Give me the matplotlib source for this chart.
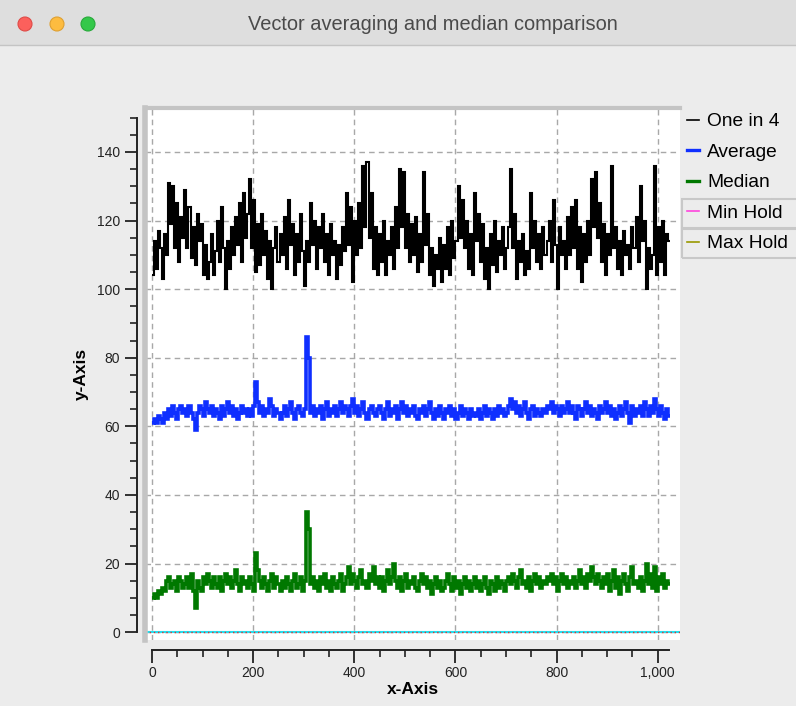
import numpy as np
import matplotlib.pyplot as plt
from matplotlib.patches import Ellipse, Rectangle
from matplotlib.lines import Line2D
from matplotlib.ticker import MultipleLocator, FuncFormatter

plt.rcParams['font.family'] = ['Liberation Sans', 'DejaVu Sans']

# "One in 4" samples (every 4th point of 1024)
one_in_4 = [
    104, 114, 106, 117, 112, 103, 116, 110, 131, 119, 130, 112, 125, 108, 121, 115,
    129, 112, 124, 109, 118, 107, 122, 114, 119, 104, 113, 103, 108, 116, 104, 111,
    120, 108, 124, 112, 100, 114, 106, 118, 110, 121, 113, 125, 108, 128, 115, 122,
    132, 112, 126, 105, 119, 107, 122, 110, 117, 103, 114, 100, 112, 118, 108, 116,
    110, 121, 106, 126, 113, 119, 104, 116, 108, 122, 111, 101, 114, 108, 125, 113,
    120, 106, 118, 112, 122, 108, 116, 104, 119, 110, 114, 103, 113, 107, 118, 111,
    128, 113, 124, 102, 120, 110, 125, 112, 136, 118, 137, 115, 128, 106, 118, 104,
    116, 108, 120, 104, 114, 110, 118, 106, 124, 112, 135, 118, 134, 112, 122, 108,
    119, 110, 121, 105, 116, 108, 134, 113, 122, 104, 112, 101, 110, 106, 115, 102,
    113, 106, 118, 104, 120, 109, 114, 130, 115, 126, 112, 120, 106, 116, 104, 128,
    114, 122, 108, 119, 103, 112, 100, 116, 107, 120, 105, 114, 110, 118, 106, 112,
    118, 135, 112, 122, 103, 114, 108, 116, 104, 111, 106, 128, 112, 120, 108, 116,
    106, 118, 110, 114, 120, 108, 126, 113, 100, 118, 110, 114, 106, 121, 110, 124,
    112, 126, 106, 118, 102, 116, 108, 120, 110, 132, 118, 134, 115, 125, 108, 119,
    104, 116, 110, 136, 112, 118, 106, 114, 104, 117, 110, 113, 106, 118, 112, 121,
    108, 130, 114, 120, 100, 112, 106, 110, 136, 104, 118, 108, 120, 104, 116, 114,
]

# average and median, read in blocks of 4 samples
average = [
    61, 62, 61, 63, 62, 61, 64, 62, 65, 63, 66, 64, 62, 65, 66, 64,
    65, 63, 66, 64, 62, 59, 64, 66, 65, 63, 67, 65, 64, 66, 63, 65,
    64, 62, 66, 63, 65, 67, 64, 66, 63, 65, 62, 64, 66, 64, 65, 63,
    65, 63, 66, 73, 67, 64, 66, 63, 65, 64, 68, 66, 63, 65, 64, 62,
    64, 66, 63, 65, 67, 64, 62, 65, 66, 64, 63, 65, 86, 80, 64, 66,
    63, 65, 64, 66, 62, 65, 67, 63, 65, 64, 66, 63, 65, 67, 64, 66,
    65, 63, 66, 68, 64, 66, 63, 65, 67, 64, 62, 65, 66, 64, 63, 65,
    66, 64, 62, 65, 67, 63, 65, 64, 66, 62, 65, 67, 64, 66, 63, 65,
    64, 66, 63, 62, 65, 64, 66, 63, 65, 67, 64, 62, 65, 63, 66, 64,
    62, 65, 64, 66, 63, 65, 62, 64, 66, 63, 65, 64, 62, 65, 63, 64,
    63, 65, 62, 64, 66, 63, 65, 64, 62, 65, 63, 66, 64, 65, 63, 64,
    66, 68, 65, 67, 64, 66, 63, 65, 67, 64, 62, 65, 66, 63, 65, 64,
    63, 65, 64, 66, 65, 67, 64, 66, 65, 63, 66, 64, 65, 67, 64, 66,
    64, 62, 66, 65, 63, 65, 67, 64, 66, 63, 65, 64, 62, 66, 64, 65,
    67, 64, 66, 63, 65, 62, 64, 66, 63, 65, 67, 64, 61, 66, 63, 65,
    64, 66, 63, 67, 65, 63, 66, 64, 68, 65, 63, 66, 64, 62, 65, 63,
]
median = [
    10, 11, 10, 12, 11, 13, 12, 15, 16, 13, 14, 15, 12, 16, 15, 13,
    14, 16, 13, 17, 12, 7, 15, 13, 12, 16, 14, 17, 15, 13, 16, 14,
    13, 16, 12, 15, 17, 14, 16, 13, 15, 18, 14, 12, 16, 14, 15, 13,
    16, 14, 12, 23, 18, 15, 13, 16, 14, 12, 15, 17, 13, 16, 14, 12,
    15, 13, 16, 14, 12, 15, 17, 13, 14, 16, 12, 15, 35, 30, 14, 16,
    13, 15, 12, 16, 14, 17, 13, 15, 12, 16, 14, 13, 15, 17, 12, 14,
    16, 19, 14, 17, 15, 13, 16, 18, 14, 15, 13, 17, 15, 19, 14, 16,
    13, 16, 12, 15, 18, 14, 16, 20, 15, 13, 16, 12, 15, 17, 13, 15,
    14, 16, 13, 12, 15, 17, 14, 16, 13, 15, 11, 14, 16, 13, 15, 12,
    13, 15, 17, 14, 12, 16, 13, 15, 11, 14, 16, 13, 15, 12, 14, 16,
    13, 15, 12, 14, 16, 13, 11, 15, 14, 12, 16, 13, 15, 14, 12, 15,
    16, 14, 17, 15, 13, 16, 18, 14, 15, 13, 16, 12, 15, 17, 14, 16,
    13, 15, 14, 16, 15, 17, 14, 16, 12, 15, 17, 14, 16, 13, 15, 14,
    16, 13, 15, 18, 14, 16, 13, 17, 15, 19, 16, 14, 17, 15, 13, 16,
    14, 17, 12, 15, 18, 13, 16, 11, 15, 17, 14, 12, 16, 19, 14, 15,
    13, 16, 12, 15, 20, 14, 17, 13, 19, 12, 16, 14, 17, 13, 15, 14,
]
hold_level = 0

edges_one = np.arange(len(one_in_4) + 1) * 4
edges = np.arange(len(average) + 1) * 4

fig = plt.figure(figsize=(7.96, 7.06), dpi=100)
fig.patch.set_facecolor('#ececec')

# window title bar
fig.add_artist(Rectangle((0, 1 - 45 / 706), 1, 45 / 706, transform=fig.transFigure,
                         facecolor='#dedede', edgecolor='none'))
fig.add_artist(Line2D([0, 1], [1 - 45 / 706] * 2, transform=fig.transFigure,
                      color='#c4c4c4', lw=1))
for cx, col, ec in [(25, '#fc605c', '#de4b47'), (57, '#fdbc40', '#dea032'), (88, '#34c84a', '#27a93a')]:
    fig.add_artist(Ellipse((cx / 796, 1 - 24 / 706), 14 / 796, 14 / 706,
                           transform=fig.transFigure, facecolor=col, edgecolor=ec, lw=0.8))
fig.text(433 / 796, 1 - 25 / 706, 'Vector averaging and median comparison',
         ha='center', va='center', fontsize=14.4, color='#4a4a4a')

ax = fig.add_axes([145 / 796, 1 - 640 / 706, 535 / 796, 532 / 706])
ax.set_facecolor('white')

ax.axhline(hold_level, color='#22e0f0', lw=1.5, zorder=2)
ax.axhline(hold_level, color='#e03030', lw=1, ls=(0, (1, 2)), zorder=2)
ax.stairs(one_in_4, edges_one, baseline=None, color='black', lw=1.5, label='One in 4', zorder=3)
ax.stairs(average, edges, baseline=None, color='#0f2fff', lw=2.6, label='Average', zorder=3)
ax.stairs(median, edges, baseline=None, color='#007800', lw=2.6, label='Median', zorder=3)

ax.set_xlim(-14, 1044)
ax.set_ylim(-2.3, 152.8)

ax.xaxis.set_major_locator(MultipleLocator(200))
ax.xaxis.set_minor_locator(MultipleLocator(50))
ax.yaxis.set_major_locator(MultipleLocator(20))
ax.yaxis.set_minor_locator(MultipleLocator(5))
ax.xaxis.set_major_formatter(FuncFormatter(lambda v, p: f'{int(v):,}'))
ax.grid(True, which='major', color='#a8a8a8', ls=(0, (4, 3)), lw=1)
ax.set_axisbelow(True)

ax.spines['right'].set_visible(False)
ax.spines['top'].set_color('#c4c4c4')
ax.spines['top'].set_linewidth(3)
ax.spines['left'].set_position(('outward', 6))
ax.spines['left'].set_bounds(0, 150)
ax.spines['bottom'].set_position(('outward', 7))
ax.spines['bottom'].set_bounds(0, 1023)
for s in ['left', 'bottom']:
    ax.spines[s].set_color('#222222')
    ax.spines[s].set_linewidth(1.4)
# grey frame on the left edge of the plot area
ax.add_artist(Line2D([0, 0], [0, 1], transform=ax.transAxes, color='#c4c4c4', lw=4, clip_on=False))

ax.tick_params(which='major', direction='out', length=9, width=1.3, color='#222222',
               labelsize=10, labelcolor='#222222', pad=3)
ax.tick_params(which='minor', direction='out', length=5, width=1.2, color='#222222')

ax.set_xlabel('x-Axis', fontsize=12.5, fontweight='bold', labelpad=1)
ax.set_ylabel('y-Axis', fontsize=12.5, fontweight='bold', labelpad=6)

handles = [
    Line2D([], [], color='black', lw=1.2),
    Line2D([], [], color='#0f2fff', lw=2.4),
    Line2D([], [], color='#007800', lw=2.4),
    Line2D([], [], color='#ff44dd', lw=1.2),
    Line2D([], [], color='#999900', lw=1.2),
]
labels = ['One in 4', 'Average', 'Median', 'Min Hold', 'Max Hold']
for y0 in [199, 229]:
    fig.add_artist(Rectangle((682 / 796, 1 - (y0 + 29) / 706), 120 / 796, 29 / 706,
                             transform=fig.transFigure, facecolor='none',
                             edgecolor='#c8c8c8', lw=1.5))
fig.legend(handles, labels, loc='upper left', bbox_to_anchor=(687 / 796, 1 - 113 / 706),
           frameon=False, fontsize=13.8, handlelength=0.6, handletextpad=0.45,
           labelspacing=0.68, borderpad=0, borderaxespad=0)

fig.savefig('out.png', dpi=100, facecolor=fig.get_facecolor())
